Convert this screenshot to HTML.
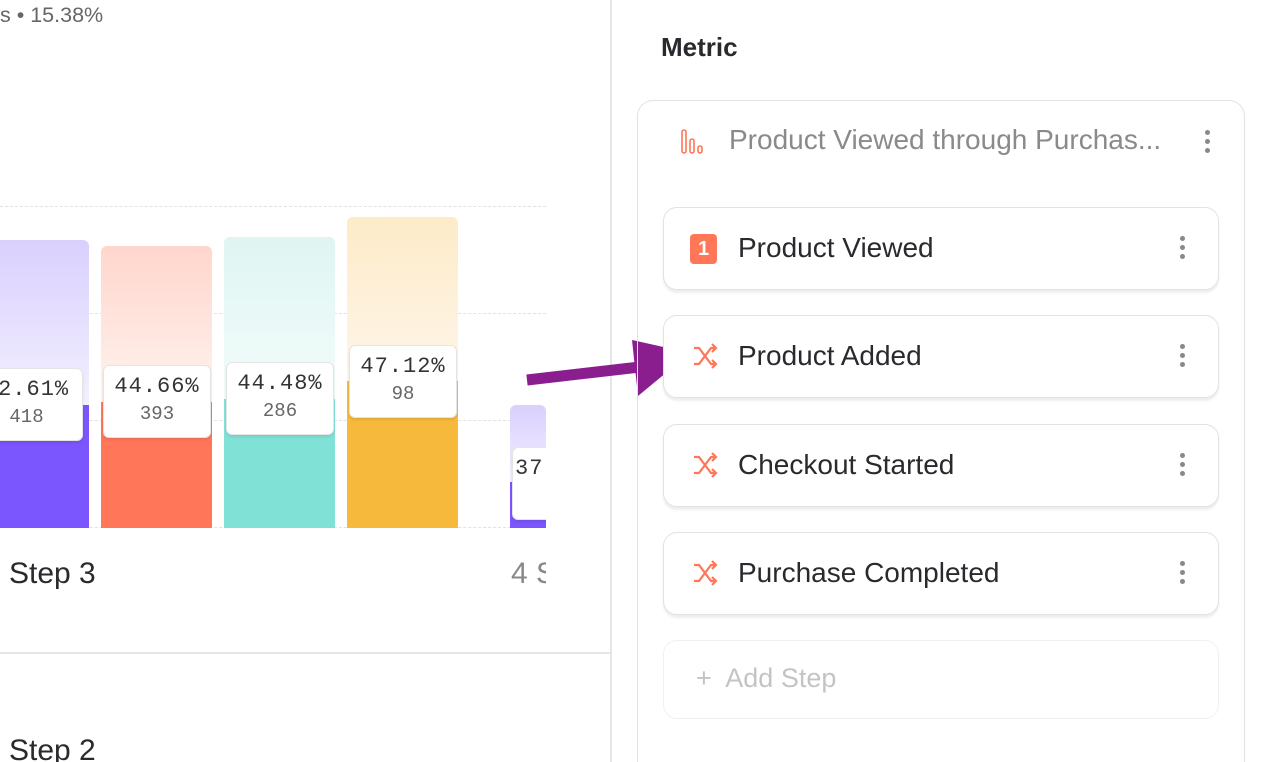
<!DOCTYPE html><html><head><style>
html,body{margin:0;overflow:hidden;width:1264px;height:762px}
body{background:#fff;font-family:"Liberation Sans",sans-serif}
#w{position:relative;width:1264px;height:762px;overflow:hidden}
.a{position:absolute;white-space:nowrap}
.grid{position:absolute;left:0;width:546px;border-top:1.5px dashed #e2e2e2}
.bar{position:absolute;border-radius:6px 6px 0 0;overflow:hidden}
.lb{position:absolute;background:#fff;border:1.5px solid #e4e4e4;border-radius:6px;box-shadow:0 2px 2px rgba(0,0,0,.08);text-align:center;font-family:"Liberation Mono",monospace;color:#333;white-space:nowrap}
.lb .p{font-size:22px;margin-top:8px;letter-spacing:1px}
.lb .n{font-size:19px;color:#666;margin-top:4px}
.card{position:absolute;left:663px;width:554px;height:81px;border:1.5px solid #e2e2e2;border-radius:14px;box-shadow:0 3px 2px rgba(0,0,0,.07);background:#fff}
.card .t{position:absolute;left:74px;top:24px;font-size:28px;color:#2a2a2e;white-space:nowrap}
.dots{position:absolute;width:5px}
.dots i{display:block;width:5px;height:5px;border-radius:50%;background:#888;margin-bottom:4px}
</style></head><body><div id="w">
<div class="a" style="left:0;top:3px;font-size:21.5px;color:#666">s • 15.38%</div>
<div class="a" style="left:610px;top:0;width:1.5px;height:762px;background:#e6e6e6"></div>
<div class="a" style="left:0;top:652px;width:610px;height:1.5px;background:#e6e6e6"></div>
<div class="grid" style="top:206px"></div><div class="grid" style="top:313px"></div><div class="grid" style="top:420px"></div><div class="grid" style="top:527px"></div>

<div class="bar" style="left:-10px;width:99px;top:240px;height:288px;background:linear-gradient(#d9d0fd,#f3f0ff 165px,#7b55fd 165px)"></div>
<div class="bar" style="left:101px;width:111px;top:246px;height:282px;background:linear-gradient(#ffd6cc,#fff3ef 156px,#ff7659 156px)"></div>
<div class="bar" style="left:224px;width:111px;top:237px;height:291px;background:linear-gradient(#dff5f2,#f3fcfb 162px,#80e1d6 162px)"></div>
<div class="bar" style="left:347px;width:111px;top:217px;height:311px;background:linear-gradient(#fdebc8,#fff6ea 164px,#f6b93b 164px)"></div>
<div class="bar" style="left:510px;width:36px;top:405px;height:123px;background:linear-gradient(#d9d0fd,#f3f0ff 77px,#7b55fd 77px)"></div>

<div class="lb" style="left:-30px;top:368px;width:111px;height:71px"><div class="p">42.61%</div><div class="n">418</div></div>
<div class="lb" style="left:103px;top:365px;width:106px;height:71px"><div class="p">44.66%</div><div class="n">393</div></div>
<div class="lb" style="left:226px;top:362px;width:106px;height:71px"><div class="p">44.48%</div><div class="n">286</div></div>
<div class="lb" style="left:349px;top:345px;width:106px;height:71px"><div class="p">47.12%</div><div class="n">98</div></div>
<div class="a" style="left:0;top:0;width:546px;height:762px;overflow:hidden;pointer-events:none"><div class="lb" style="left:512px;top:447px;width:106px;height:71px;text-align:left"><div class="p" style="padding-left:2px">37.5%</div></div></div>

<div class="a" style="left:9px;top:557px;font-size:30px;color:#2a2a2e">Step 3</div>
<div class="a" style="left:0;top:0;width:546px;height:762px;overflow:hidden"><div class="a" style="left:511px;top:557px;font-size:30px;color:#888">4 Step</div></div>
<div class="a" style="left:9px;top:734px;font-size:30px;color:#2a2a2e">Step 2</div>

<svg class="a" style="left:0;top:0" width="1264" height="762"><line x1="527" y1="380" x2="640" y2="367" stroke="#8b1e8f" stroke-width="11"/><polygon points="690,353 632,340 638,396" fill="#8b1e8f"/></svg>

<div class="a" style="left:661px;top:32px;font-size:26px;font-weight:bold;color:#2a2a2e">Metric</div>
<div class="a" style="left:637px;top:100px;width:606px;height:680px;border:1.5px solid #e2e2e2;border-bottom:none;border-radius:16px 16px 0 0"></div>
<svg class="a" style="left:680px;top:128px" width="30" height="28"><rect x="2" y="2" width="4" height="23" rx="2" fill="none" stroke="#ff7659" stroke-width="1.6"/><rect x="10" y="11" width="4" height="14" rx="2" fill="none" stroke="#ff7659" stroke-width="1.6"/><rect x="18" y="18" width="4" height="7" rx="2" fill="none" stroke="#ff7659" stroke-width="1.6"/></svg>
<div class="a" style="left:729px;top:124px;font-size:28px;color:#8a8a8a">Product Viewed through Purchas...</div>
<div class="dots" style="left:1205px;top:130px"><i></i><i></i><i></i></div>

<div class="card" style="top:207px"><div class="a" style="left:26px;top:26px;width:27px;height:30px;background:#ff7659;border-radius:4px;color:#fff;font-size:20px;font-weight:bold;text-align:center;line-height:30px">1</div><div class="t">Product Viewed</div><div class="dots" style="left:516px;top:28px"><i></i><i></i><i></i></div></div>
<div class="card" style="top:315px"><svg class="a" style="left:28px;top:27px" width="28" height="28"><path d="M2 5h5l12 16h5M2 21h5l12-16h5M20 1l4 4-4 4M20 17l4 4-4 4" fill="none" stroke="#ff7659" stroke-width="2.2"/></svg><div class="t">Product Added</div><div class="dots" style="left:516px;top:28px"><i></i><i></i><i></i></div></div>
<div class="card" style="top:424px"><svg class="a" style="left:28px;top:27px" width="28" height="28"><path d="M2 5h5l12 16h5M2 21h5l12-16h5M20 1l4 4-4 4M20 17l4 4-4 4" fill="none" stroke="#ff7659" stroke-width="2.2"/></svg><div class="t">Checkout Started</div><div class="dots" style="left:516px;top:28px"><i></i><i></i><i></i></div></div>
<div class="card" style="top:532px"><svg class="a" style="left:28px;top:27px" width="28" height="28"><path d="M2 5h5l12 16h5M2 21h5l12-16h5M20 1l4 4-4 4M20 17l4 4-4 4" fill="none" stroke="#ff7659" stroke-width="2.2"/></svg><div class="t">Purchase Completed</div><div class="dots" style="left:516px;top:28px"><i></i><i></i><i></i></div></div>
<div class="a" style="left:663px;top:640px;width:554px;height:77px;border:1.5px solid #f0f0f0;border-radius:14px"><div class="a" style="left:32px;top:22px;font-size:27px;color:#c4c4c4">+&nbsp; Add Step</div></div>
</div></body></html>
